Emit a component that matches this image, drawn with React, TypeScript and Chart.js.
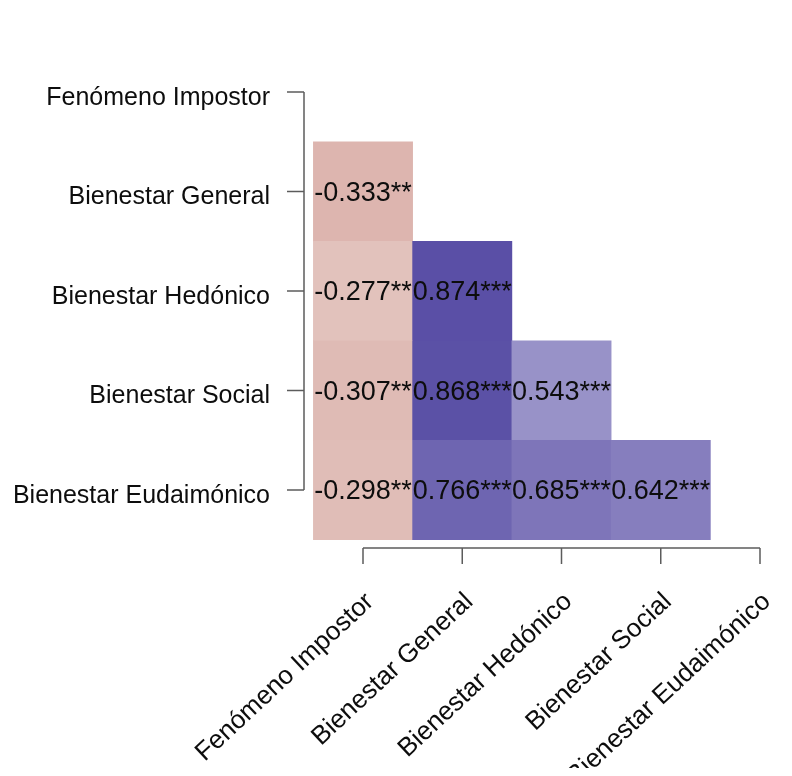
import React, { useEffect, useRef } from "react";
import { Chart, registerables } from "chart.js";

Chart.register(...registerables);

// Variables, in matrix order (top row / left column first)
const variables = [
  "Fenómeno Impostor",
  "Bienestar General",
  "Bienestar Hedónico",
  "Bienestar Social",
  "Bienestar Eudaimónico",
];

// Lower-triangle correlations, one array per row (columns 0..row-1)
const rowGeneral = [-0.333];
const rowHedonico = [-0.277, 0.874];
const rowSocial = [-0.307, 0.868, 0.543];
const rowEudaimonico = [-0.298, 0.766, 0.685, 0.642];

// Significance marks matching each correlation above
const starsGeneral = ["**"];
const starsHedonico = ["**", "***"];
const starsSocial = ["**", "***", "***"];
const starsEudaimonico = ["**", "***", "***", "***"];

const correlationRows = [[], rowGeneral, rowHedonico, rowSocial, rowEudaimonico];
const starRows = [[], starsGeneral, starsHedonico, starsSocial, starsEudaimonico];

const NEG_END = [152, 34, 14];
const POS_END = [66, 54, 153];

function cellColor(r: number): string {
  const end = r < 0 ? NEG_END : POS_END;
  const t = Math.abs(r);
  const c = end.map((e) => Math.round(255 - t * (255 - e)));
  return `rgb(${c[0]},${c[1]},${c[2]})`;
}

type Cell = { x: number; y: [number, number]; r: number; label: string };

function buildCells(): Cell[] {
  const cells: Cell[] = [];
  correlationRows.forEach((row, ri) => {
    row.forEach((r, ci) => {
      cells.push({
        x: ci,
        y: [ri - 0.5, ri + 0.5],
        r,
        label: `${r.toFixed(3)}${starRows[ri][ci]}`,
      });
    });
  });
  return cells;
}

const FONT = '"Liberation Sans", Arial, "Helvetica Neue", sans-serif';
const AXIS_COLOR = "#5c5c5c";
const TEXT_COLOR = "#0d0d0d";
const LABEL_ANGLE = (43 * Math.PI) / 180;

const matrixDecor = {
  id: "matrixDecor",
  afterDatasetsDraw(chart: any) {
    const { ctx } = chart;
    const meta = chart.getDatasetMeta(0);
    const cells: Cell[] = chart.data.datasets[0].data;
    ctx.save();
    ctx.fillStyle = TEXT_COLOR;
    ctx.font = `27px ${FONT}`;
    ctx.textAlign = "center";
    ctx.textBaseline = "alphabetic";
    meta.data.forEach((el: any, i: number) => {
      const cx = el.x;
      const cy = (el.y + el.base) / 2;
      ctx.fillText(cells[i].label, cx, cy + 9.5);
    });
    ctx.restore();
  },
  afterDraw(chart: any) {
    const { ctx, chartArea } = chart;
    const xs = chart.scales.x;
    const ys = chart.scales.y;
    const n = variables.length;
    ctx.save();
    ctx.strokeStyle = AXIS_COLOR;
    ctx.lineWidth = 1.5;

    // left axis
    const ax = chartArea.left;
    const yTop = ys.getPixelForValue(0);
    const yBot = ys.getPixelForValue(n - 1);
    ctx.beginPath();
    ctx.moveTo(ax, yTop);
    ctx.lineTo(ax, yBot);
    for (let i = 0; i < n; i++) {
      const py = ys.getPixelForValue(i);
      ctx.moveTo(ax - 17, py);
      ctx.lineTo(ax, py);
    }
    ctx.stroke();

    // bottom axis
    const ay = chartArea.bottom;
    const xL = xs.getPixelForValue(0);
    const xR = xs.getPixelForValue(n - 1);
    ctx.beginPath();
    ctx.moveTo(xL, ay);
    ctx.lineTo(xR, ay);
    for (let i = 0; i < n; i++) {
      const px = xs.getPixelForValue(i);
      ctx.moveTo(px, ay);
      ctx.lineTo(px, ay + 16);
    }
    ctx.stroke();

    // labels
    ctx.fillStyle = TEXT_COLOR;
    ctx.font = `25px ${FONT}`;
    ctx.textAlign = "right";
    ctx.textBaseline = "alphabetic";
    for (let i = 0; i < n; i++) {
      ctx.fillText(variables[i], ax - 34, ys.getPixelForValue(i) + 13);
    }
    ctx.font = `26px ${FONT}`;
    ctx.textBaseline = "middle";
    for (let i = 0; i < n; i++) {
      const px = xs.getPixelForValue(i);
      ctx.save();
      ctx.translate(px + 7, ay + 50);
      ctx.rotate(-LABEL_ANGLE);
      ctx.fillText(variables[i], 0, 0);
      ctx.restore();
    }
    ctx.restore();
  },
};

export default function App() {
  const canvasRef = useRef<HTMLCanvasElement | null>(null);

  useEffect(() => {
    if (!canvasRef.current) return;
    const cells = buildCells();
    const chart = new Chart(canvasRef.current, {
      type: "bar",
      data: {
        datasets: [
          {
            data: cells as any,
            backgroundColor: cells.map((c) => cellColor(c.r)),
            borderWidth: 0,
            barPercentage: 1,
            categoryPercentage: 1,
          },
        ],
      },
      options: {
        animation: false,
        responsive: false,
        maintainAspectRatio: false,
        parsing: { xAxisKey: "x", yAxisKey: "y" },
        layout: { padding: { left: 296, right: 24, top: 84, bottom: 220 } },
        plugins: {
          legend: { display: false },
          tooltip: { enabled: false },
        },
        scales: {
          x: {
            type: "linear",
            display: false,
            offset: false,
            min: -0.5945,
            max: 4,
            afterBuildTicks: (scale: any) => {
              scale.ticks = variables.map((_, i) => ({ value: i }));
            },
          },
          y: {
            type: "linear",
            display: false,
            reverse: true,
            min: 0,
            max: 4.583,
          },
        },
      },
      plugins: [matrixDecor],
    });
    return () => chart.destroy();
  }, []);

  return (
    <div style={{ width: 776, height: 760, background: "#ffffff" }}>
      <canvas ref={canvasRef} width={776} height={760} style={{ display: "block" }} />
    </div>
  );
}
